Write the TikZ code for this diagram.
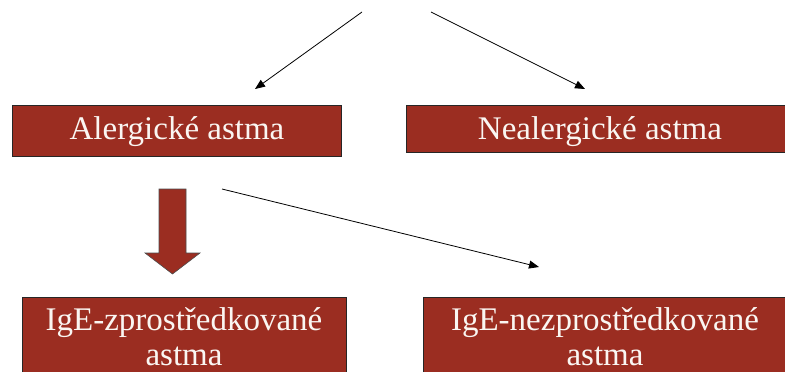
\documentclass[tikz,border=0pt]{standalone}
\usepackage{fontspec}
\setmainfont{Liberation Serif}
\newfontfamily\labelfont{Liberation Serif}
\usetikzlibrary{arrows.meta}
\definecolor{boxred}{RGB}{155,45,33}
\definecolor{boxtext}{RGB}{250,246,242}
\tikzset{
  redbox/.style={draw=black!85, line width=0.6pt, fill=boxred},
  boxlabel/.style={text=boxtext, font=\labelfont\fontsize{33}{36}\selectfont, anchor=base, inner sep=0pt},
  thinarrow/.style={draw=black, line width=0.8pt, -{Triangle[length=10pt,width=8pt]}}
}
\begin{document}
\begin{tikzpicture}[x=1pt,y=-1pt]
\useasboundingbox (0,0) rectangle (785,372);
\begin{scope}
\clip (0,0) rectangle (785,372);
% boxes
\draw[redbox] (12,105) rectangle (341,156);
\node[minimum width=329pt, minimum height=51pt, inner sep=0pt] (aller) at (176.5,130.5) {};
\draw[redbox] (406,105) rectangle (795,152);
\node[minimum width=389pt, minimum height=47pt, inner sep=0pt] (nonaller) at (600.5,128.5) {};
\draw[redbox] (22,297) rectangle (346,380);
\node[minimum width=324pt, minimum height=83pt, inner sep=0pt] (ige) at (184,338.5) {};
\draw[redbox] (423,297) rectangle (795,380);
\node[minimum width=372pt, minimum height=83pt, inner sep=0pt] (nonige) at (609,338.5) {};
\end{scope}
% labels
\node[boxlabel] (alabel) at (177,139) {Alergické astma};
\node[boxlabel] (blabel) at (600,139) {Nealergické astma};
\node[boxlabel] (clabel1) at (184,330) {IgE-zprostředkované};
\node[boxlabel] (clabel2) at (184,365) {astma};
\node[boxlabel] (dlabel1) at (605,330) {IgE-nezprostředkované};
\node[boxlabel] (dlabel2) at (605,365) {astma};
% thin arrows
\coordinate (topL) at (362,12);
\coordinate (topR) at (431,12);
\coordinate (endL) at (255,89);
\coordinate (endR) at (585,89);
\coordinate (midS) at (222,189);
\coordinate (midE) at (539,267);
\draw[thinarrow] (topL) -- (endL);
\draw[thinarrow] (topR) -- (endR);
\draw[thinarrow] (midS) -- (midE);
% block arrow
\draw[draw=black!70, line width=0.6pt, fill=boxred]
  (159,189) -- (186,189) -- (186,253) -- (200,253) -- (172.5,274) -- (145,253) -- (159,253) -- cycle;
\end{tikzpicture}
\end{document}
